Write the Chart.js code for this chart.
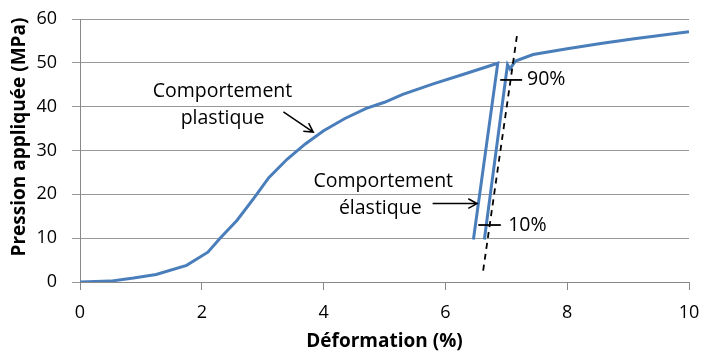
<!DOCTYPE html>
<html>
<head>
<meta charset="utf-8">
<script src="https://cdn.jsdelivr.net/npm/chart.js@4"></script>
<style>
  html, body { margin: 0; padding: 0; background: #fff; }
  #wrap { width: 702px; height: 354px; }
</style>
</head>
<body>
<div id="wrap"><canvas id="myChart"></canvas></div>
<script>
// courbe contrainte / deformation : charge, decharge, puis recharge (null = coupure du trait)
const deformation = [0, 0.5, 0.88, 1.25, 1.75, 2.1, 2.3, 2.58, 2.85, 3.1, 3.4, 3.7, 4.0, 4.35, 4.7, 5.0, 5.3, 5.8, 6.3, 6.86, 6.46, 6.55, 6.64, 7.02, 7.06, 7.15, 7.44, 8.0, 8.55, 9.1, 10];
const pression    = [0, 0.2, 0.9, 1.7, 3.8, 6.8, 10, 14.1, 19, 23.8, 28, 31.5, 34.5, 37.3, 39.6, 41, 42.8, 45.2, 47.4, 49.9, 9.7, null, 9.7, 49.6, 48.6, 50.4, 51.9, 53.2, 54.4, 55.5, 57.1];

// droite en pointilles (pente elastique)
const penteX = [6.62, 7.18];
const penteY = [2.6, 56.7];

// reperes 10% et 90%
const repere10X = [6.54, 6.91];
const repere10Y = [13, 13];
const repere90X = [6.9, 7.26];
const repere90Y = [46.1, 46.1];

const xTicks = [0, 2, 4, 6, 8, 10];
const yTicks = [0, 10, 20, 30, 40, 50, 60];

const titreX = 'Déformation (%)';
const titreY = 'Pression appliquée (MPa)';

// textes et fleches en coordonnees du graphique
const textes = [
  { t: 'Comportement', x: 2.34, y: 43.5, align: 'center' },
  { t: 'plastique', x: 2.34, y: 37.3, align: 'center' },
  { t: 'Comportement', x: 4.98, y: 23.0, align: 'center' },
  { t: 'élastique', x: 4.93, y: 16.8, align: 'center' },
  { t: '90%', x: 7.34, y: 46.1, align: 'left' },
  { t: '10%', x: 7.03, y: 13.0, align: 'left' }
];
const fleches = [
  { x1: 3.34, y1: 38.8, x2: 3.83, y2: 34.2 },
  { x1: 5.79, y1: 17.9, x2: 6.52, y2: 17.9 }
];

const pts = (xs, ys) => xs.map((x, i) => ({ x: x, y: ys[i] }));

const FONT = "'Open Sans', sans-serif";

// pas de marge automatique pour les libelles : la zone du graphique reste fixe
const sansMarge = s => { s.paddingLeft = s.paddingRight = s.paddingTop = s.paddingBottom = 0; };

const annotations = {
  id: 'annotations',
  afterDatasetsDraw(chart) {
    const ctx = chart.ctx;
    const sx = chart.scales.x, sy = chart.scales.y;
    ctx.save();
    ctx.fillStyle = '#000';
    ctx.font = '19.5px ' + FONT;
    ctx.textBaseline = 'middle';
    textes.forEach(a => {
      ctx.textAlign = a.align;
      ctx.fillText(a.t, sx.getPixelForValue(a.x), sy.getPixelForValue(a.y));
    });
    ctx.strokeStyle = '#000';
    ctx.lineWidth = 1.5;
    fleches.forEach(f => {
      const x1 = sx.getPixelForValue(f.x1), y1 = sy.getPixelForValue(f.y1);
      const x2 = sx.getPixelForValue(f.x2), y2 = sy.getPixelForValue(f.y2);
      const ang = Math.atan2(y2 - y1, x2 - x1);
      ctx.beginPath();
      ctx.moveTo(x1, y1);
      ctx.lineTo(x2, y2);
      ctx.moveTo(x2 - 10 * Math.cos(ang - 0.5), y2 - 10 * Math.sin(ang - 0.5));
      ctx.lineTo(x2, y2);
      ctx.lineTo(x2 - 10 * Math.cos(ang + 0.5), y2 - 10 * Math.sin(ang + 0.5));
      ctx.stroke();
    });

    // titres des axes
    ctx.font = 'bold 19px ' + FONT;
    ctx.textAlign = 'center';
    ctx.fillText(titreX, (chart.chartArea.left + chart.chartArea.right) / 2, 342);
    ctx.translate(20, 137);
    ctx.rotate(-Math.PI / 2);
    ctx.fillText(titreY, 0, 0);
    ctx.restore();
  }
};

new Chart(document.getElementById('myChart'), {
  type: 'scatter',
  data: {
    datasets: [
      {
        data: pts(deformation, pression),
        showLine: true,
        spanGaps: false,
        borderColor: '#4a7ebb',
        borderWidth: 3,
        pointRadius: 0,
        tension: 0,
        order: 1
      },
      {
        data: pts(penteX, penteY),
        showLine: true,
        borderColor: '#000',
        borderWidth: 1.8,
        borderDash: [6, 5],
        pointRadius: 0,
        order: 0
      },
      {
        data: pts(repere10X, repere10Y),
        showLine: true,
        borderColor: '#000',
        borderWidth: 1.8,
        pointRadius: 0,
        order: 0
      },
      {
        data: pts(repere90X, repere90Y),
        showLine: true,
        borderColor: '#000',
        borderWidth: 1.8,
        pointRadius: 0,
        order: 0
      }
    ]
  },
  options: {
    responsive: true,
    maintainAspectRatio: false,
    animation: false,
    layout: { padding: { left: 0, right: 13, top: 19, bottom: 0 } },
    plugins: { legend: { display: false }, tooltip: { enabled: false } },
    scales: {
      x: {
        type: 'linear',
        min: 0, max: 10,
        afterBuildTicks: s => { s.ticks = xTicks.map(v => ({ value: v })); },
        afterFit: s => { s.height = 72; sansMarge(s); },
        grid: { drawOnChartArea: false, color: '#888', tickLength: 8 },
        border: { color: '#888', width: 1 },
        ticks: { color: '#000', font: { family: FONT, size: 18 }, padding: 12 }
      },
      y: {
        min: 0, max: 60,
        afterBuildTicks: s => { s.ticks = yTicks.map(v => ({ value: v })); },
        afterFit: s => { s.width = 80; sansMarge(s); },
        grid: { color: '#999', tickLength: 8 },
        border: { color: '#888', width: 1 },
        ticks: { color: '#000', font: { family: FONT, size: 18 }, padding: 15 }
      }
    }
  },
  plugins: [annotations]
});
</script>
</body>
</html>
